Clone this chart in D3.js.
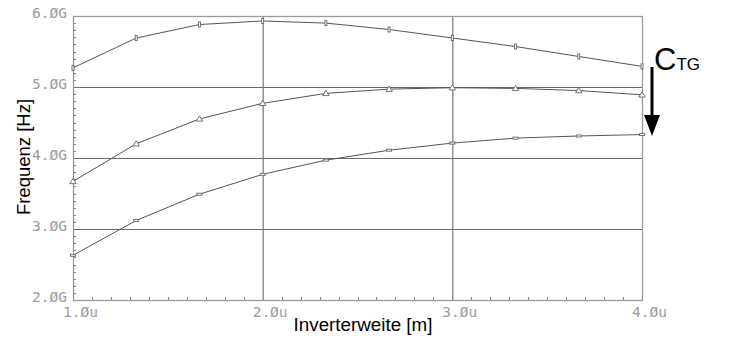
<!DOCTYPE html>
<html>
<head>
<meta charset="utf-8">
<script src="https://cdn.jsdelivr.net/npm/d3@7"></script>
<style>
  body { margin: 0; background: #fff; }
  svg { display: block; }
</style>
</head>
<body>
<div id="canvas"></div>
<script>
// inverter width in u (x values)
const widths = [1.0, 4/3, 5/3, 2.0, 7/3, 8/3, 3.0, 10/3, 11/3, 4.0];

// frequency in GHz, one array per C_TG value (top to bottom)
const freqLow  = [5.27, 5.69, 5.88, 5.93, 5.90, 5.81, 5.69, 5.57, 5.43, 5.29];
const freqMid  = [3.67, 4.20, 4.55, 4.77, 4.91, 4.97, 4.99, 4.98, 4.95, 4.89];
const freqHigh = [2.63, 3.12, 3.49, 3.77, 3.97, 4.11, 4.21, 4.28, 4.31, 4.33];

const xTicks = [1, 2, 3, 4];
const yTicks = [2, 3, 4, 5, 6];
const xTickLabels = ['1.Øu', '2.Øu', '3.Øu', '4.Øu'];
const yTickLabels = ['2.ØG', '3.ØG', '4.ØG', '5.ØG', '6.ØG'];

const W = 729, H = 342;
const margin = {left: 73, right: 87, top: 16, bottom: 42};

const svg = d3.select('#canvas').append('svg')
  .attr('width', W).attr('height', H);

const x = d3.scaleLinear().domain([1, 4]).range([margin.left, W - margin.right]);
const y = d3.scaleLinear().domain([2, 6]).range([H - margin.bottom, margin.top]);

// ----- grid -----
svg.append('g').selectAll('line.hg')
  .data(yTicks.slice(1, -1))
  .join('line')
  .attr('x1', x(1)).attr('x2', x(4))
  .attr('y1', d => y(d) + 0.5).attr('y2', d => y(d) + 0.5)
  .attr('stroke', '#6a6a6a').attr('stroke-width', 1.1);

svg.append('g').selectAll('line.vg')
  .data(xTicks.slice(1, -1))
  .join('line')
  .attr('x1', d => x(d) + 0.5).attr('x2', d => x(d) + 0.5)
  .attr('y1', y(6)).attr('y2', y(2))
  .attr('stroke', '#6a6a6a').attr('stroke-width', 1.1);

// frame
svg.append('rect')
  .attr('x', x(1) + 0.5).attr('y', y(6) + 0.5)
  .attr('width', x(4) - x(1)).attr('height', y(2) - y(6))
  .attr('fill', 'none').attr('stroke', '#9a9a9a').attr('stroke-width', 1.3);

// minor ticks (inward)
const yMinor = d3.range(2, 6.001, 0.1).filter(v => Math.abs(v - Math.round(v)) > 0.01);
svg.append('g').selectAll('line')
  .data(yMinor)
  .join('line')
  .attr('x1', x(1)).attr('x2', x(1) + 3)
  .attr('y1', d => Math.round(y(d)) + 0.5).attr('y2', d => Math.round(y(d)) + 0.5)
  .attr('stroke', '#888');

const xMinor = d3.range(1, 4.001, 0.1).filter(v => Math.abs(v - Math.round(v)) > 0.01);
svg.append('g').selectAll('line')
  .data(xMinor)
  .join('line')
  .attr('x1', d => Math.round(x(d)) + 0.5).attr('x2', d => Math.round(x(d)) + 0.5)
  .attr('y1', y(2)).attr('y2', y(2) - 3)
  .attr('stroke', '#888');

// ----- tick labels -----
const tickFont = '"DejaVu Sans Mono", monospace';
svg.append('g').selectAll('text')
  .data(yTicks)
  .join('text')
  .attr('x', x(1) - 6)
  .attr('y', d => y(d) + 2)
  .attr('text-anchor', 'end')
  .style('font', `14.5px ${tickFont}`)
  .attr('fill', '#9c9c9c')
  .text((d, i) => yTickLabels[i]);

svg.append('g').selectAll('text')
  .data(xTicks)
  .join('text')
  .attr('x', d => x(d) - 10)
  .attr('y', y(2) + 17)
  .style('font', `14.5px ${tickFont}`)
  .attr('fill', '#9c9c9c')
  .text((d, i) => xTickLabels[i]);

// ----- axis titles -----
svg.append('text')
  .attr('x', 363)
  .attr('y', 331)
  .attr('text-anchor', 'middle')
  .style('font', '18.8px "Liberation Sans", Arial, sans-serif')
  .text('Inverterweite [m]');

svg.append('text')
  .attr('transform', 'translate(30,157) rotate(-90)')
  .attr('text-anchor', 'middle')
  .style('font', '18.5px "Liberation Sans", Arial, sans-serif')
  .text('Frequenz [Hz]');

// ----- series -----
const line = d3.line().x(d => x(d[0])).y(d => y(d[1]));
const series = [
  {name: 'low', values: freqLow, marker: 'vrect'},
  {name: 'mid', values: freqMid, marker: 'tri'},
  {name: 'high', values: freqHigh, marker: 'hrect'}
];

series.forEach(s => {
  const pts = widths.map((w, i) => [w, s.values[i]]);
  svg.append('path')
    .datum(pts)
    .attr('d', line)
    .attr('fill', 'none')
    .attr('stroke', '#555')
    .attr('stroke-width', 1);

  const g = svg.append('g');
  if (s.marker === 'tri') {
    g.selectAll('path')
      .data(pts)
      .join('path')
      .attr('d', d => `M${x(d[0])},${y(d[1]) - 3}L${x(d[0]) + 3.2},${y(d[1]) + 2.2}L${x(d[0]) - 3.2},${y(d[1]) + 2.2}Z`)
      .attr('fill', '#fff').attr('stroke', '#666').attr('stroke-width', 0.9);
  } else {
    const vw = s.marker === 'vrect' ? 2 : 5;
    const vh = s.marker === 'vrect' ? 5 : 2;
    g.selectAll('rect')
      .data(pts)
      .join('rect')
      .attr('x', d => x(d[0]) - vw / 2)
      .attr('y', d => y(d[1]) - vh / 2)
      .attr('width', vw).attr('height', vh)
      .attr('fill', '#fff').attr('stroke', '#666').attr('stroke-width', 0.9);
  }
});

// ----- C_TG annotation arrow -----
const ax = 652;
svg.append('line')
  .attr('x1', ax).attr('x2', ax)
  .attr('y1', 67).attr('y2', 118)
  .attr('stroke', '#000').attr('stroke-width', 3);
svg.append('path')
  .attr('d', `M${ax - 8},115L${ax + 8},115L${ax},136Z`)
  .attr('fill', '#000');

const ctg = svg.append('text')
  .attr('x', 654)
  .attr('y', 70)
  .style('font', '31px "Liberation Sans", Arial, sans-serif');
ctg.append('tspan').text('C');
ctg.append('tspan').style('font-size', '17px').text('TG');
</script>
</body>
</html>
